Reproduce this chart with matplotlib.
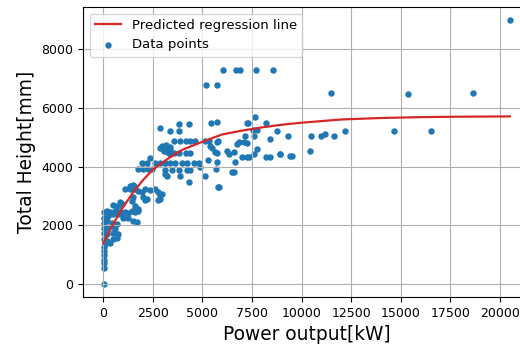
import matplotlib.pyplot as plt
import numpy as np

# data points (power output kW, total height mm)
power = [20500,
         6060, 6690, 6870, 7710, 8580, 5190, 5710,
         11490, 15340, 18650,
         9290, 10480, 10970, 11190, 11640, 12200, 14680, 16500,
         8920, 9430, 9510, 10430,
         7320, 7660, 8220, 7750, 8750, 7610, 8420, 7240, 7750, 7610, 7370, 8220, 8420, 8890, 7160, 7540,
         6490, 5810, 6740, 7070, 6820,
         3830, 4300, 3380, 3830, 5440, 5730, 7240,
         3540, 3880, 4170, 4390, 4640, 5110, 5310, 5780, 5730,
         3210, 3380,
         3540, 3800, 4170, 4390,
         5390, 5480, 5610, 5730,
         6240, 6320, 6570,
         6990, 7240,
         3130, 3380, 3630, 3970, 4220, 4550, 4800, 4890,
         3130, 3460, 3800, 4220, 4390,
         5280, 5730, 5700, 6650, 6570, 5140, 3880, 4300, 5780,
         3130, 3210,
         2840, 2960, 3180, 3340, 3040, 3290, 3380,
         2860, 3020, 3190, 2350,
         1930, 2180, 2610, 2860, 3110,
         1760, 2020, 2270, 2470,
         1510, 1350, 1600, 1360, 1530,
         1090, 1760, 1930, 2100, 2350, 2610, 2770, 2860,
         2180, 2860, 1510, 2020, 840, 690, 2960,
         50, 30, 20, 20, 30, 40, 30, 60,
         20, 170, 340, 500, 670,
         20, 170, 500, 760,
         10, 250, 420, 590,
         10, 170, 420, 670,
         20, 250, 500, 760, 920,
         20, 170, 340, 590, 840,
         1090, 1260, 1430, 1600, 1760,
         1010, 1260, 1510, 1680,
         760, 920, 500, 1600, 1760, 1430, 2100, 2770]

height = [9000,
          7300, 7300, 7300, 7300, 7300, 6800, 6800,
          6530, 6490, 6530,
          5030, 5030, 5030, 5120, 5030, 5210, 5210, 5210,
          4430, 4360, 4360, 4520,
          5490, 5690, 5490, 5260, 5230, 5030, 4930, 4800, 4610, 4430, 4340, 4340, 4340, 4430, 5060, 5260,
          3810, 3320, 4780, 4840, 4840,
          5440, 5440, 5200, 5200, 5500, 5520, 5500,
          4880, 4880, 4880, 4880, 4880, 4880, 4880, 4880, 4830,
          4670, 4610,
          4450, 4450, 4450, 4450,
          4720, 4630, 4490, 4460,
          4550, 4430, 4510,
          4320, 4340,
          4120, 4120, 4120, 4120, 4120, 4120, 4120, 3980,
          3880, 3880, 3880, 3880, 3880,
          4230, 4150, 3920, 4170, 3810, 3690, 3690, 3490, 3310,
          3750, 3690,
          5320, 4720, 4740, 4670, 4550, 4510, 4430,
          4630, 4610, 4490, 4290,
          4130, 4130, 4130, 4130, 4130,
          3920, 3920, 3920, 3920,
          3370, 3230, 3230, 3350, 3350,
          3230, 3180, 3120, 3230, 3210, 3230, 3140, 3030,
          2890, 2890, 2950, 2980, 2780, 2660, 3060,
          0, 550, 720, 830, 1000, 1120, 1240, 1350,
          1520, 1460, 1410, 1520, 1580,
          1750, 1690, 1750, 1690,
          1920, 1920, 1980, 1860,
          2090, 2150, 2090, 2030,
          2260, 2320, 2380, 2380, 2380,
          2440, 2490, 2460, 2490, 2440,
          2440, 2410, 2490, 2460, 2490,
          2260, 2260, 2150, 2110,
          2660, 2720, 2690, 2660, 2570, 2830, 2870, 2870]

# predicted regression line
line_power = [0, 250, 500, 750, 1000, 1500, 2000, 2500, 3000, 3500, 4000,
              5000, 6000, 7000, 8000, 9000, 10000, 12000, 14000, 16000, 18000, 20500]
line_height = [1380, 1720, 2040, 2340, 2620, 3120, 3540, 3900, 4150, 4380, 4580,
               4850, 5100, 5230, 5340, 5430, 5500, 5610, 5660, 5690, 5705, 5715]

fig = plt.figure(figsize=(5.2, 3.49), dpi=100)
ax = fig.add_axes([0.1596, 0.149, 0.860, 0.831])

ax.plot(line_power, line_height, color='C3', linewidth=1.6, label='Predicted regression line')
ax.scatter(power, height, s=13, color='C0', label='Data points')

ax.grid(True)
ax.set_xlabel('Power output[kW]', fontsize=13.4)
ax.set_ylabel('Total Height[mm]', fontsize=13.4)
ax.tick_params(labelsize=9)
ax.set_xticks(np.arange(0, 20001, 2500))
ax.legend(loc='upper left', fontsize=9.5)

plt.savefig('out.png', dpi=100)
